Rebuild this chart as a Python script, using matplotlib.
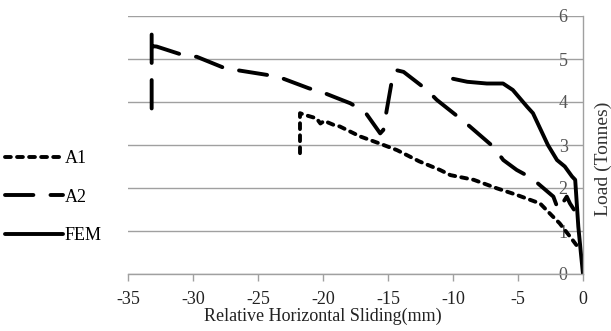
import matplotlib
matplotlib.use("Agg")
import matplotlib.pyplot as plt

# ---- data ----
a1_x = [-21.77, -21.77, -21.4, -20.5, -20.2, -19.9, -19.2, -18.7, -17.15, -15.6,
        -14.3, -12.6, -11.0, -10.2, -8.4, -6.6, -5.1, -3.3, -2.3, -1.8, -1.0, -0.5, -0.1]
a1_y = [2.81, 3.74, 3.70, 3.62, 3.50, 3.56, 3.47, 3.43, 3.20, 3.03,
        2.88, 2.62, 2.42, 2.30, 2.19, 1.99, 1.84, 1.64, 1.33, 1.18, 0.87, 0.67, 0.62]

a2_x = [-33.18, -33.18, -33.18, -32.8, -30.75, -29.7, -27.5, -26.6, -24.3, -23.3,
        -21.1, -20.0, -17.9, -16.77, -15.6, -15.36, -15.1, -14.6, -14.35, -13.8,
        -12.0, -11.25, -9.46, -8.7, -6.9, -6.13, -5.1, -3.95, -2.28, -1.9, -1.25, -1.0, -0.7]
a2_y = [3.85, 5.63, 5.30, 5.29, 5.09, 5.05, 4.78, 4.74, 4.63, 4.57,
        4.32, 4.22, 3.97, 3.77, 3.27, 3.35, 3.81, 4.67, 4.74, 4.70,
        4.28, 4.05, 3.62, 3.43, 2.96, 2.65, 2.42, 2.23, 1.80, 1.49, 1.80, 1.64, 1.50]

fem_x = [-10.0, -8.9, -7.4, -6.15, -5.4, -4.3, -3.85, -2.7, -2.0, -1.4, -0.85, -0.6,
         -0.36, -0.15, 0.0]
fem_y = [4.54, 4.47, 4.43, 4.43, 4.28, 3.89, 3.74, 3.0, 2.65, 2.50, 2.27, 2.19,
         1.1, 0.45, 0.0]

x_ticks = [-35, -30, -25, -20, -15, -10, -5, 0]
y_ticks = [0, 1, 2, 3, 4, 5, 6]
series_labels = ["A1", "A2", "FEM"]

plt.rcParams['font.family'] = ['Liberation Serif', 'DejaVu Serif']

fig = plt.figure(figsize=(6.11, 3.31), dpi=100)
ax = fig.add_axes([128/611, 1-274/331, 455/611, 258/331])

grid_c = '#a0a0a0'
lw = 2.8
ax.plot(a1_x, a1_y, color='black', lw=lw, linestyle=(0, (1.5, 1.6)),
        dash_capstyle='round', solid_capstyle='round', label=series_labels[0])
ax.plot(a2_x, a2_y, color='black', lw=lw, linestyle=(0, (7.3, 4.4)),
        dash_capstyle='round', label=series_labels[1])
ax.plot(fem_x, fem_y, color='black', lw=lw, solid_capstyle='round',
        label=series_labels[2])

ax.set_xlim(-35, 0)
ax.set_ylim(0, 6)
ax.set_xticks(x_ticks)
ax.set_yticks(y_ticks)
ax.set_xticklabels([str(v) for v in x_ticks])
ax.set_yticklabels([str(v) for v in y_ticks])

for s in ['left', 'top']:
    ax.spines[s].set_visible(False)
for s in ['bottom', 'right']:
    ax.spines[s].set_color(grid_c)
    ax.spines[s].set_linewidth(1.0)

ax.yaxis.grid(True, color=grid_c, linewidth=1.0)
ax.set_axisbelow(True)

ax.yaxis.set_ticks_position('right')
ax.tick_params(axis='y', length=0, pad=-11, labelsize=13, labelcolor='#555555')
for t in ax.get_yticklabels():
    t.set_horizontalalignment('right')
ax.tick_params(axis='x', direction='out', length=5, width=1.0, color=grid_c,
               pad=7, labelsize=13, labelcolor='#222222')

ax.set_xlabel("Relative Horizontal Sliding(mm)", fontsize=13, color='#222222')
ax.xaxis.set_label_coords((323-128)/455, -0.13)
ax.yaxis.set_label_position('right')
ax.set_ylabel("Load (Tonnes)", fontsize=14, color='#333333', rotation=90,
              va='center', ha='center')
ax.yaxis.set_label_coords((603-128)/455, (274-159)/258)

leg = ax.legend(loc='upper left', bbox_to_anchor=(5/611, 1-150/331),
                bbox_transform=fig.transFigure, frameon=False, fontsize=13,
                handlelength=3.2, handletextpad=0.1, labelspacing=1.2,
                borderpad=0, borderaxespad=0)

fig.savefig("out.png", dpi=100)
